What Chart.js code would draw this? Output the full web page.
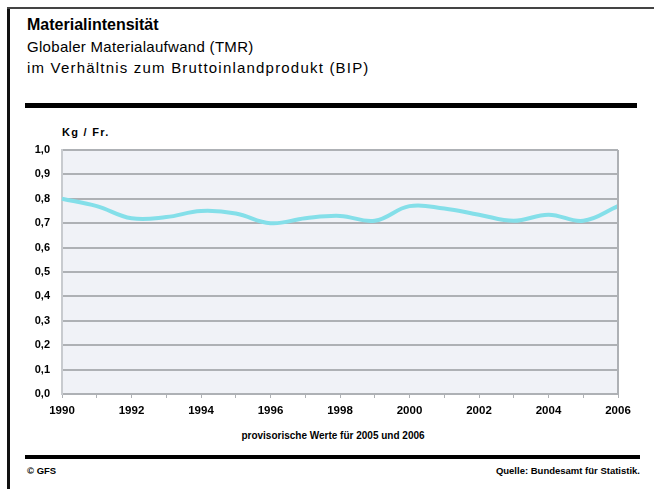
<!DOCTYPE html>
<html><head><meta charset="utf-8">
<script src="https://cdn.jsdelivr.net/npm/chart.js@4"></script>
<style>
html,body{margin:0;padding:0;background:#fff;}
#wrap{position:relative;width:654px;height:489px;overflow:hidden;background:#fff;font-family:"Liberation Sans",Arial,sans-serif;color:#000;}
.t{position:absolute;white-space:nowrap;}
.bar{position:absolute;background:#000;}
canvas{position:absolute;left:0;top:0;}
</style></head>
<body><div id="wrap">
<div class="bar" style="left:7px;top:7px;width:3px;height:482px;background:#111"></div>
<div class="bar" style="left:7px;top:7px;width:647px;height:2px;background:#444"></div>
<div class="t" id="title" style="left:27px;top:16px;font-size:16px;font-weight:bold;">Materialintensität</div>
<div class="t" id="sub1" style="left:27px;top:38px;font-size:15px;letter-spacing:0.3px;">Globaler Materialaufwand (TMR)</div>
<div class="t" id="sub2" style="left:27px;top:59px;font-size:15px;letter-spacing:1.2px;">im Verhältnis zum Bruttoinlandprodukt (BIP)</div>
<div class="bar" style="left:25px;top:103px;width:612px;height:5px;"></div>
<div class="t" id="unit" style="left:62px;top:126px;font-size:11px;font-weight:bold;letter-spacing:1.3px;">Kg / Fr.</div>
<div class="t" id="note" style="left:333px;top:430px;font-size:10px;font-weight:bold;transform:translateX(-50%);">provisorische Werte für 2005 und 2006</div>
<div class="bar" style="left:25px;top:455px;width:615px;height:4px;"></div>
<div class="t" id="foot1" style="left:27px;top:465px;font-size:9.5px;font-weight:bold;">© GFS</div>
<div class="t" id="foot2" style="right:14px;top:465px;font-size:9.5px;font-weight:bold;">Quelle: Bundesamt für Statistik.</div>
<canvas id="c" width="654" height="489"></canvas>
</div>
<script>
const years = [1990,1991,1992,1993,1994,1995,1996,1997,1998,1999,2000,2001,2002,2003,2004,2005,2006];
const intensity = [0.80,0.77,0.72,0.725,0.75,0.74,0.70,0.72,0.73,0.71,0.77,0.76,0.735,0.71,0.735,0.71,0.77];
const yTicks = [0,0.1,0.2,0.3,0.4,0.5,0.6,0.7,0.8,0.9,1.0];
const yUnit = "Kg / Fr.";

const bgPlugin = {
  id:'bg',
  beforeDraw(chart){
    const {ctx, chartArea:a} = chart;
    ctx.save();
    ctx.fillStyle = '#f0f2f7';
    ctx.fillRect(a.left, a.top, a.right-a.left, a.bottom-a.top);
    ctx.restore();
  },
  afterDatasetsDraw(chart){
    const {ctx, chartArea:a} = chart;
    ctx.save();
    ctx.strokeStyle = '#aeb1b5';
    ctx.lineWidth = 2;
    ctx.beginPath();
    ctx.moveTo(a.right, a.top); ctx.lineTo(a.right, a.bottom);
    ctx.stroke();
    ctx.restore();
  }
};

new Chart(document.getElementById('c'), {
  type:'line',
  data:{
    labels: years.map(String),
    datasets:[{
      data: intensity,
      borderColor:'#84dfe9',
      borderWidth:4,
      pointRadius:0,
      tension:0.4,
      fill:false
    }]
  },
  options:{
    responsive:false,
    animation:false,
    devicePixelRatio:1,
    layout:{padding:{left:0,right:36,top:150,bottom:0}},
    plugins:{legend:{display:false},tooltip:{enabled:false}},
    scales:{
      x:{
        type:'category',
        offset:false,
        grid:{drawOnChartArea:false,drawTicks:true,tickLength:4,color:'#aeb1b5',lineWidth:1},
        border:{display:false},
        ticks:{
          autoSkip:false,maxRotation:0,padding:6,
          color:'#000',
          font:{family:'"Liberation Sans",Arial,sans-serif',size:11.5,weight:'bold'},
          callback:function(v,i){const y=years[i];return y%2===0?String(y):'';}
        },
        afterFit(s){s.height=95;}
      },
      y:{
        min:0,max:1,
        afterBuildTicks(s){s.ticks=yTicks.map(v=>({value:v}));},
        grid:{color:'#aeb1b5',lineWidth:2,drawTicks:false},
        border:{display:true,color:'#c8cbcf',width:2},
        ticks:{
          padding:12,color:'#000',
          font:{family:'"Liberation Sans",Arial,sans-serif',size:11,weight:'bold'},
          callback:v=>Number(v).toFixed(1).replace('.',',')
        },
        afterFit(s){s.width=62;}
      }
    }
  },
  plugins:[bgPlugin]
});
</script>
</body></html>
